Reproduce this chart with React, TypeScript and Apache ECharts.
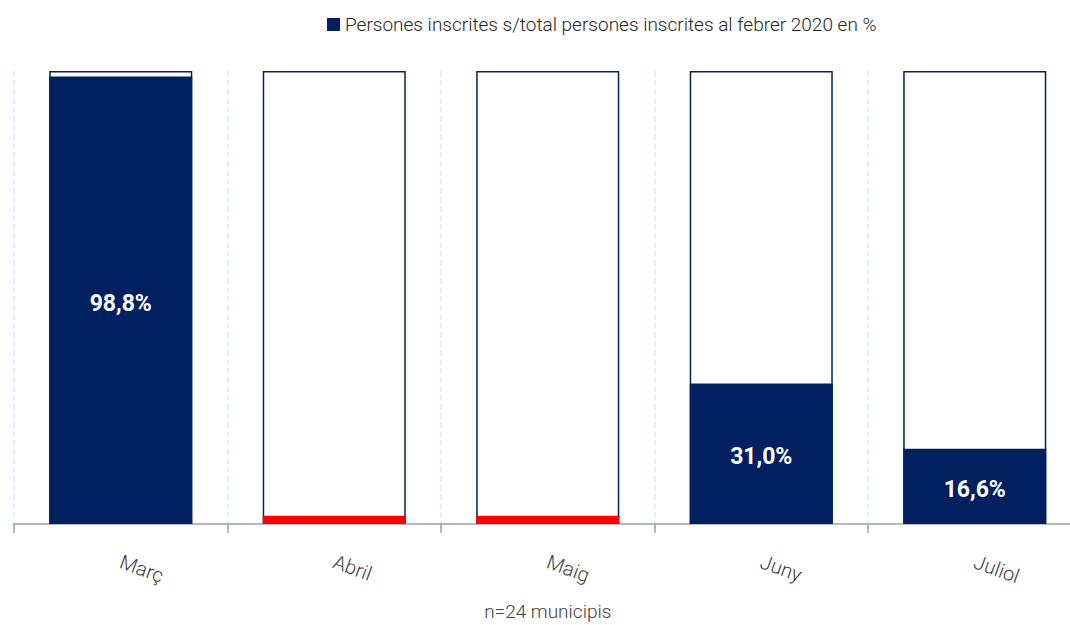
import React, { useEffect, useRef } from "react";
import * as echarts from "echarts";

const categories = ["Març", "Abril", "Maig", "Juny", "Juliol"];
const values = [98.8, 1.8, 1.8, 31.0, 16.6];
const highlightRed = [false, true, true, false, false];
const frameValues = [100, 100, 100, 100, 100];
const seriesName = "Persones inscrites s/total persones inscrites al febrer 2020 en %";
const noteText = "n=24 municipis";

const NAVY = "#002060";
const FONT = "Roboto, 'Liberation Sans', sans-serif";

export default function App() {
  const ref = useRef<HTMLDivElement>(null);
  useEffect(() => {
    if (!ref.current) return;
    const chart = echarts.init(ref.current, undefined, { renderer: "svg" });
    chart.setOption({
      animation: false,
      textStyle: { fontFamily: FONT },
      legend: {
        data: [seriesName],
        left: 322,
        top: 10,
        itemWidth: 13,
        itemHeight: 13,
        icon: "rect",
        textStyle: { fontFamily: FONT, fontSize: 19, fontWeight: 300, color: "#262626" },
      },
      grid: { left: 14, top: 71, width: 1067.5, height: 453, outerBoundsMode: "none", containLabel: false },
      xAxis: {
        type: "category",
        data: categories,
        name: noteText,
        nameLocation: "middle",
        nameGap: 78,
        nameTextStyle: { fontFamily: FONT, fontSize: 19, fontWeight: 300, color: "#404040" },
        axisLine: { lineStyle: { color: "#a0a0a0", width: 1.5 } },
        axisTick: { show: true, length: 9, lineStyle: { color: "#a0a0a0", width: 1.5 } },
        axisLabel: {
          rotate: -20,
          margin: 37,
          fontFamily: FONT,
          fontSize: 20,
          fontWeight: 300,
          color: "#404040",
        },
        splitLine: { show: true, lineStyle: { color: "#d6edf5", type: "dashed", width: 1.5 } },
      },
      yAxis: { type: "value", min: 0, max: 100, show: false, splitLine: { show: false } },
      series: [
        {
          name: "frame",
          type: "bar",
          data: frameValues,
          barWidth: "67%",
          barGap: "-100%",
          z: 1,
          silent: true,
          itemStyle: { color: "#ffffff", borderColor: NAVY, borderWidth: 1.5 },
        },
        {
          name: seriesName,
          type: "bar",
          barWidth: "67%",
          z: 2,
          data: values.map((v, i) => ({
            value: v,
            itemStyle: { color: highlightRed[i] ? "#ff0000" : NAVY },
            label: { show: !highlightRed[i] },
          })),
          itemStyle: { color: NAVY },
          label: {
            show: true,
            position: "inside",
            offset: [0, 3],
            formatter: (p: any) => p.value.toFixed(1).replace(".", ",") + "%",
            fontFamily: FONT,
            fontWeight: "bold",
            fontSize: 23,
            color: "#ffffff",
          },
        },
      ],
    });
    return () => chart.dispose();
  }, []);
  return (
    <div
      ref={ref}
      style={{ position: "absolute", left: 0, top: 0, width: 1070, height: 625, background: "#fff" }}
    />
  );
}
